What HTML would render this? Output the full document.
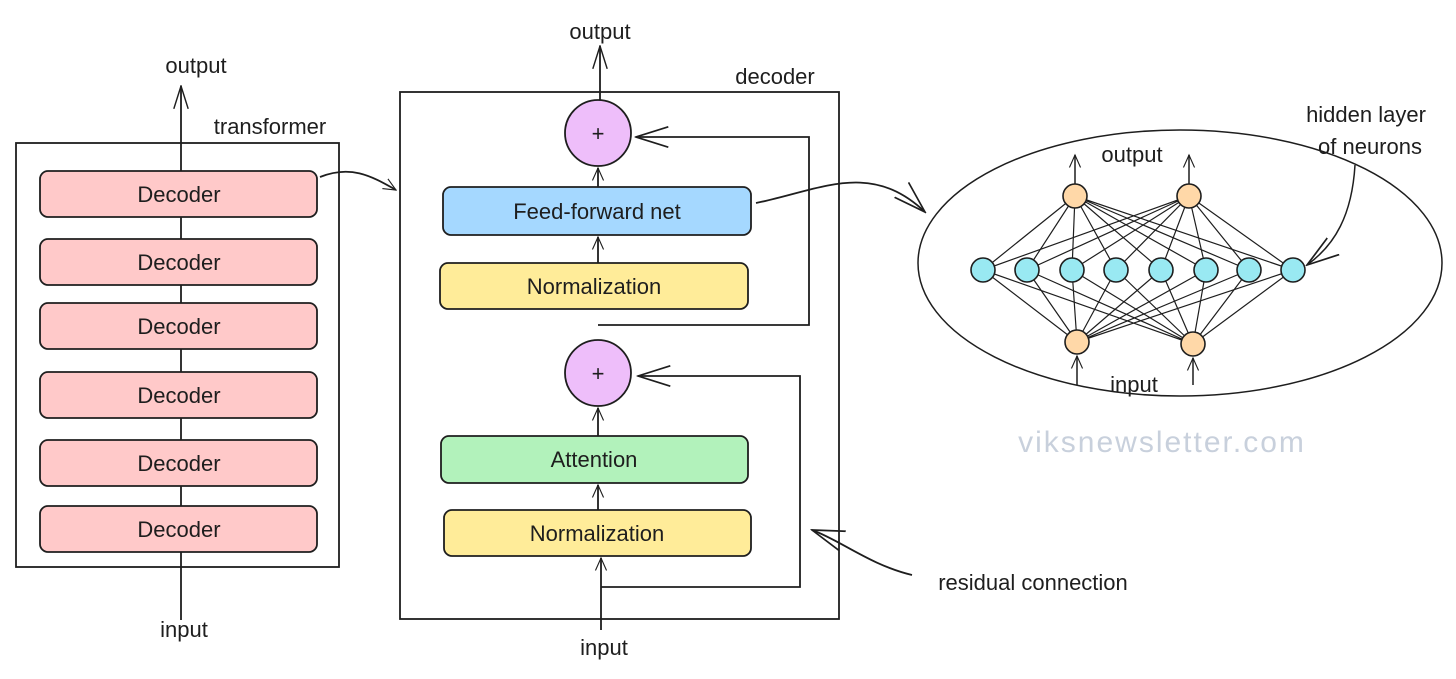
<!DOCTYPE html>
<html><head><meta charset="utf-8"><style>
html,body{margin:0;padding:0;background:#fff;}
svg{display:block;}
text{font-family:"Liberation Sans",sans-serif;fill:#1e1e1e;}
</style></head><body>
<svg width="1456" height="679" viewBox="0 0 1456 679" xmlns="http://www.w3.org/2000/svg">
<defs>
<marker id="a" viewBox="0 0 20 20" refX="18" refY="10" markerWidth="14" markerHeight="14" orient="auto-start-reverse" markerUnits="userSpaceOnUse">
<path d="M0,2 L18,10 L0,18" fill="none" stroke="#1e1e1e" stroke-width="1.6"/>
</marker>
<marker id="b" viewBox="0 0 40 40" refX="38" refY="20" markerWidth="34" markerHeight="34" orient="auto" markerUnits="userSpaceOnUse">
<path d="M0,8 L38,20 L0,32" fill="none" stroke="#1e1e1e" stroke-width="2"/>
</marker>
<marker id="c" viewBox="0 0 40 40" refX="38" refY="20" markerWidth="24" markerHeight="24" orient="auto" markerUnits="userSpaceOnUse">
<path d="M0,8 L38,20 L0,32" fill="none" stroke="#1e1e1e" stroke-width="2.4"/>
</marker>
</defs>
<g stroke="#1e1e1e" stroke-width="1.8" fill="none">
<rect x="16" y="143" width="323" height="424"/>
<line x1="181" y1="620" x2="181" y2="86" marker-end="url(#c)"/>
</g>
<g stroke="#1e1e1e" stroke-width="1.8" fill="#ffc9c9">
<rect x="40" y="171" width="277" height="46" rx="8"/>
<rect x="40" y="239" width="277" height="46" rx="8"/>
<rect x="40" y="303" width="277" height="46" rx="8"/>
<rect x="40" y="372" width="277" height="46" rx="8"/>
<rect x="40" y="440" width="277" height="46" rx="8"/>
<rect x="40" y="506" width="277" height="46" rx="8"/>
</g>
<g font-size="22" text-anchor="middle">
<text x="179" y="202">Decoder</text>
<text x="179" y="270">Decoder</text>
<text x="179" y="334">Decoder</text>
<text x="179" y="403">Decoder</text>
<text x="179" y="471">Decoder</text>
<text x="179" y="537">Decoder</text>
<text x="196" y="73">output</text>
<text x="270" y="134">transformer</text>
<text x="184" y="637">input</text>
</g>
<g stroke="#1e1e1e" stroke-width="1.8" fill="none">
<path d="M320,177 C350,165 370,175 396,190" marker-end="url(#a)"/>
<rect x="400" y="92" width="439" height="527"/>
<line x1="600" y1="100" x2="600" y2="46" marker-end="url(#c)"/>
<line x1="598" y1="187" x2="598" y2="168" marker-end="url(#a)"/>
<line x1="598" y1="263" x2="598" y2="237" marker-end="url(#a)"/>
<line x1="598" y1="436" x2="598" y2="408" marker-end="url(#a)"/>
<line x1="598" y1="510" x2="598" y2="485" marker-end="url(#a)"/>
<line x1="601" y1="630" x2="601" y2="558" marker-end="url(#a)"/>
<path d="M598,325 L809,325 L809,137 L636,137" marker-end="url(#b)"/>
<path d="M601,587 L800,587 L800,376 L638,376" marker-end="url(#b)"/>
<path d="M756,203 C820,190 870,160 925,212" marker-end="url(#b)"/>
<path d="M912,575 C870,565 840,540 812,530" marker-end="url(#b)"/>
</g>
<g stroke="#1e1e1e" stroke-width="1.8">
<circle cx="598" cy="133" r="33" fill="#eebefa"/>
<circle cx="598" cy="373" r="33" fill="#eebefa"/>
<rect x="443" y="187" width="308" height="48" rx="8" fill="#a5d8ff"/>
<rect x="440" y="263" width="308" height="46" rx="8" fill="#ffec99"/>
<rect x="441" y="436" width="307" height="47" rx="8" fill="#b2f2bb"/>
<rect x="444" y="510" width="307" height="46" rx="8" fill="#ffec99"/>
</g>
<g font-size="22" text-anchor="middle">
<text x="598" y="141">+</text>
<text x="598" y="381">+</text>
<text x="597" y="219">Feed-forward net</text>
<text x="594" y="294">Normalization</text>
<text x="594" y="467">Attention</text>
<text x="597" y="541">Normalization</text>
<text x="600" y="39">output</text>
<text x="775" y="84">decoder</text>
<text x="604" y="655">input</text>
<text x="1033" y="590">residual connection</text>
<text x="1366" y="122">hidden layer</text>
<text x="1370" y="154">of neurons</text>
<text x="1132" y="162">output</text>
<text x="1134" y="392">input</text>
</g>
<text x="1162" y="452" font-size="30" text-anchor="middle" style="fill:#c8d0dc;letter-spacing:2px">viksnewsletter.com</text>
<g stroke="#1e1e1e" stroke-width="1.5" fill="none">
<ellipse cx="1180" cy="263" rx="262" ry="133"/>
<path d="M1355,165 C1352,215 1335,245 1307,265" marker-end="url(#b)"/>
<line x1="1075" y1="184" x2="1075" y2="155" marker-end="url(#a)"/>
<line x1="1189" y1="184" x2="1189" y2="155" marker-end="url(#a)"/>
<line x1="1077" y1="385" x2="1077" y2="356" marker-end="url(#a)"/>
<line x1="1193" y1="385" x2="1193" y2="358" marker-end="url(#a)"/>
<g stroke-width="1.2">
<path d="M1075,196 L983,270 M1075,196 L1027,270 M1075,196 L1072,270 M1075,196 L1116,270 M1075,196 L1161,270 M1075,196 L1206,270 M1075,196 L1249,270 M1075,196 L1293,270"/>
<path d="M1189,196 L983,270 M1189,196 L1027,270 M1189,196 L1072,270 M1189,196 L1116,270 M1189,196 L1161,270 M1189,196 L1206,270 M1189,196 L1249,270 M1189,196 L1293,270"/>
<path d="M1077,342 L983,270 M1077,342 L1027,270 M1077,342 L1072,270 M1077,342 L1116,270 M1077,342 L1161,270 M1077,342 L1206,270 M1077,342 L1249,270 M1077,342 L1293,270"/>
<path d="M1193,344 L983,270 M1193,344 L1027,270 M1193,344 L1072,270 M1193,344 L1116,270 M1193,344 L1161,270 M1193,344 L1206,270 M1193,344 L1249,270 M1193,344 L1293,270"/>
</g>
</g>
<g stroke="#1e1e1e" stroke-width="1.6">
<circle cx="1075" cy="196" r="12" fill="#ffd8a8"/>
<circle cx="1189" cy="196" r="12" fill="#ffd8a8"/>
<circle cx="1077" cy="342" r="12" fill="#ffd8a8"/>
<circle cx="1193" cy="344" r="12" fill="#ffd8a8"/>
<g fill="#99e9f2">
<circle cx="983" cy="270" r="12"/><circle cx="1027" cy="270" r="12"/><circle cx="1072" cy="270" r="12"/><circle cx="1116" cy="270" r="12"/>
<circle cx="1161" cy="270" r="12"/><circle cx="1206" cy="270" r="12"/><circle cx="1249" cy="270" r="12"/><circle cx="1293" cy="270" r="12"/>
</g>
</g>
</svg>
</body></html>
